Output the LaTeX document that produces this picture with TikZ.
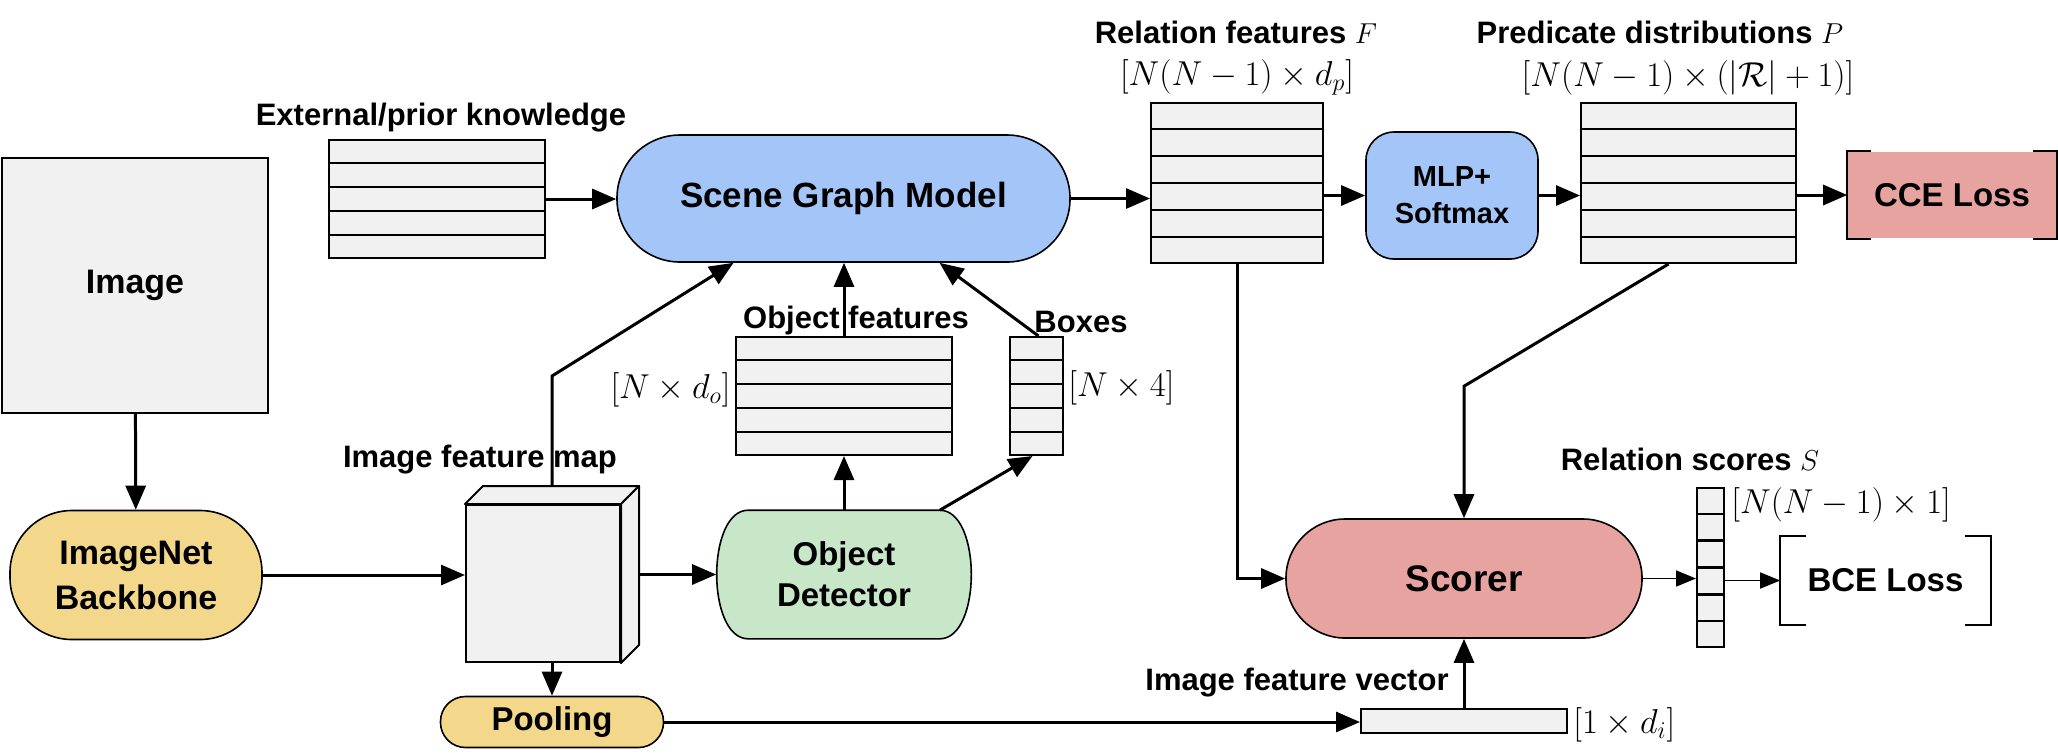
\documentclass[tikz,border=0pt]{standalone}
\usepackage{amsmath,amssymb}
\usepackage[no-math]{fontspec}
\setmainfont{Liberation Sans}
\usepackage{xcolor}
\usepackage{tikz}
\usetikzlibrary{arrows.meta,calc,backgrounds}
\definecolor{sgblue}{HTML}{A3C5F7}
\definecolor{bbyellow}{HTML}{F3D88C}
\definecolor{detgreen}{HTML}{C8E7C9}
\definecolor{scpink}{HTML}{E6A3A0}
\definecolor{tblgray}{HTML}{F1F1F1}
\newcommand{\nodefont}{\fontsize{16.5}{20}\selectfont\bfseries}
\newcommand{\lblfont}{\fontsize{15.5}{18}\selectfont\bfseries}
\newcommand{\dimfont}{\fontsize{17.5}{20}\selectfont}
\tikzset{
  tbl/.style={draw, fill=tblgray, line width=1pt, inner sep=0pt},
  pill/.style={draw, line width=0.8pt, font=\nodefont, align=center, inner sep=0pt},
  lbl/.style={font=\lblfont, inner sep=0pt},
  dim/.style={font=\dimfont, inner sep=0pt},
  fl/.style={-{Triangle[length=12pt,width=10pt]}, line width=1.5pt},
  tfl/.style={-{Triangle[length=10pt,width=8pt]}, line width=0.8pt},
  brk/.style={line width=1pt},
}

\begin{document}
\begin{tikzpicture}[x=0.5pt, y=-0.5pt]
  \useasboundingbox (0,0) rectangle (2058,752);
  % input and backbone
  \node[tbl, minimum width=133pt, minimum height=127.5pt, font=\fontsize{17}{20}\selectfont\bfseries] (image) at (135,285.5) {Image};
  \node[pill, fill=bbyellow, minimum width=126pt, minimum height=64.5pt, rounded corners=31pt, font=\fontsize{17}{22.5}\selectfont\bfseries] (backbone) at (136,575) {ImageNet\\Backbone};
  % feature map cube
  \node[tbl, minimum width=77pt, minimum height=78.5pt] (fmap) at (543,583.5) {};
  \draw[fill=tblgray, line width=1pt, line join=round] (fmap.north west) -- ++(9pt,9pt) -- ([shift={(9pt,9pt)}]fmap.north east) -- (fmap.north east) -- cycle;
  \draw[fill=tblgray, line width=1pt, line join=round] (fmap.north east) -- ++(9pt,9pt) -- ([shift={(9pt,9pt)}]fmap.south east) -- (fmap.south east) -- cycle;
  \coordinate (fmaptop) at ([shift={(4.5pt,9pt)}]fmap.north);
  \coordinate (fmapout) at ([shift={(9pt,4.5pt)}]fmap.east);
  \node[lbl] (fmaplbl) at (480,460) {Image feature map};
  \node[pill, fill=bbyellow, minimum width=111.5pt, minimum height=25.5pt, rounded corners=12.5pt] (pool) at (552,722) {Pooling};
  % scene graph model and its inputs
  \node[tbl, minimum width=108pt, minimum height=59pt] (extk) at (437,199) {};
  \node[lbl] (extlbl) at (441,118) {External/prior knowledge};
  \node[pill, fill=sgblue, minimum width=226.5pt, minimum height=63.5pt, rounded corners=31.5pt, font=\fontsize{17.5}{20}\selectfont\bfseries] (scene) at (843.5,198.5) {Scene Graph Model};
  \node[pill, draw=none, minimum width=127pt, minimum height=63.5pt, font=\fontsize{16.5}{20.5}\selectfont\bfseries] (det) at (844,574.5) {Object\\Detector};
  \begin{scope}[on background layer]
    \draw[fill=detgreen, line width=0.8pt] ([xshift=16pt]det.north west) -- ([xshift=-16pt]det.north east)
      .. controls +(21pt,0) and +(21pt,0) .. ([xshift=-16pt]det.south east) -- ([xshift=16pt]det.south west)
      .. controls +(-21pt,0) and +(-21pt,0) .. cycle;
  \end{scope}
  \node[tbl, minimum width=108pt, minimum height=59pt] (objf) at (844,396) {};
  \node[lbl] (objflbl) at (856,320) {Object features};
  \node[dim, anchor=east] (objfdim) at (731,390) {$[N \times d_o]$};
  \node[tbl, minimum width=26.5pt, minimum height=59pt] (boxf) at (1036.5,396) {};
  \node[lbl] (boxlbl) at (1081,322) {Boxes};
  \node[dim, anchor=west] (boxdim) at (1068,388) {$[N \times 4]$};
  % relation features and predicates
  \node[tbl, minimum width=86pt, minimum height=80pt] (relf) at (1237,183) {};
  \node[lbl] (relflbl) at (1236,32) {Relation features $F$};
  \node[dim] (relfdim) at (1237,77) {$[N(N-1) \times d_p]$};
  \node[pill, fill=sgblue, minimum width=86pt, minimum height=63.5pt, rounded corners=14pt, font=\fontsize{14.5}{18.5}\selectfont\bfseries] (mlp) at (1452,195.5) {MLP+\\Softmax};
  \node[tbl, minimum width=107.5pt, minimum height=80pt] (pred) at (1688.5,183) {};
  \node[lbl] (predlbl) at (1660,32) {Predicate distributions $P$};
  \node[dim] (preddim) at (1688,78) {$[N(N-1) \times (|\mathcal{R}|+1)]$};
  \node[pill, draw=none, fill=scpink, minimum width=104pt, minimum height=43pt] (cce) at (1952,195) {CCE Loss};
  \draw[brk] ([xshift=12pt]cce.north west) -- (cce.north west) -- (cce.south west) -- ([xshift=12pt]cce.south west);
  \draw[brk] ([xshift=-12pt]cce.north east) -- (cce.north east) -- (cce.south east) -- ([xshift=-12pt]cce.south east);
  % scorer
  \node[pill, fill=scpink, minimum width=178pt, minimum height=59.5pt, rounded corners=29.5pt, font=\fontsize{18.5}{20}\selectfont\bfseries] (scorer) at (1464,578.5) {Scorer};
  \node[tbl, minimum width=13.5pt, minimum height=79.5pt] (scores) at (1710.5,567.5) {};
  \node[lbl] (scoreslbl) at (1690,459) {Relation scores $S$};
  \node[dim, anchor=west] (scoresdim) at (1731,505) {$[N(N-1) \times 1]$};
  \node[pill, draw=none, minimum width=104.5pt, minimum height=43.5pt] (bce) at (1885.5,580.5) {BCE Loss};
  \draw[brk] ([xshift=13pt]bce.north west) -- (bce.north west) -- (bce.south west) -- ([xshift=13pt]bce.south west);
  \draw[brk] ([xshift=-13pt]bce.north east) -- (bce.north east) -- (bce.south east) -- ([xshift=-13pt]bce.south east);
  \node[tbl, minimum width=103pt, minimum height=12pt] (ivec) at (1464,721) {};
  \node[lbl] (iveclbl) at (1297,683) {Image feature vector};
  \node[dim, anchor=west] (ivecdim) at (1573,725) {$[1 \times d_i]$};
  % table rows
  \foreach \t/\n/\m in {extk/5/4, objf/5/4, boxf/5/4, relf/6/5, pred/6/5, scores/6/5}
    \foreach \k in {1,...,\m}
      \draw[line width=1.2pt] ($(\t.north west)!\k/\n!(\t.south west)$) -- ($(\t.north east)!\k/\n!(\t.south east)$);
  % connectors
  \draw[fl] (image) -- (backbone);
  \draw[fl] (backbone.east) -- (backbone.east -| fmap.west);
  \draw[fl] (fmapout) -- (fmapout -| det.west);
  \draw[fl] (fmaptop) -- ++(0,-110) -- ([xshift=-55pt]scene.south);
  \draw[fl] (pool.north |- fmap.south) -- (pool.north);
  \draw[fl] (pool.east) -- (pool.east -| ivec.west);
  \draw[fl] (extk.east) -- (extk.east -| scene.west);
  \draw[fl] (det.north) -- (objf.south);
  \draw[fl] (objf.north) -- (objf.north |- scene.south);
  \draw[fl] ([xshift=-16pt]det.north east) -- ([xshift=-2pt]boxf.south);
  \draw[fl] ([xshift=1pt]boxf.north) -- ([xshift=48pt]scene.south);
  \draw[fl] (scene.east) -- (scene.east -| relf.west);
  \draw[fl] (mlp.west -| relf.east) -- (mlp.west);
  \draw[fl] (mlp.east) -- (mlp.east -| pred.west);
  \draw[fl] (cce.west -| pred.east) -- (cce.west);
  \draw[fl] (relf.south) |- (scorer.west);
  \draw[fl] ([xshift=-10pt]pred.south) -- ([yshift=66pt]scorer.north) -- (scorer.north);
  \draw[fl] (ivec.north) -- (scorer.south);
  \draw[tfl] (scorer.east) -- (scorer.east -| scores.west);
  \draw[tfl] (scores.east |- bce.west) -- (bce.west);
\end{tikzpicture}
\end{document}
